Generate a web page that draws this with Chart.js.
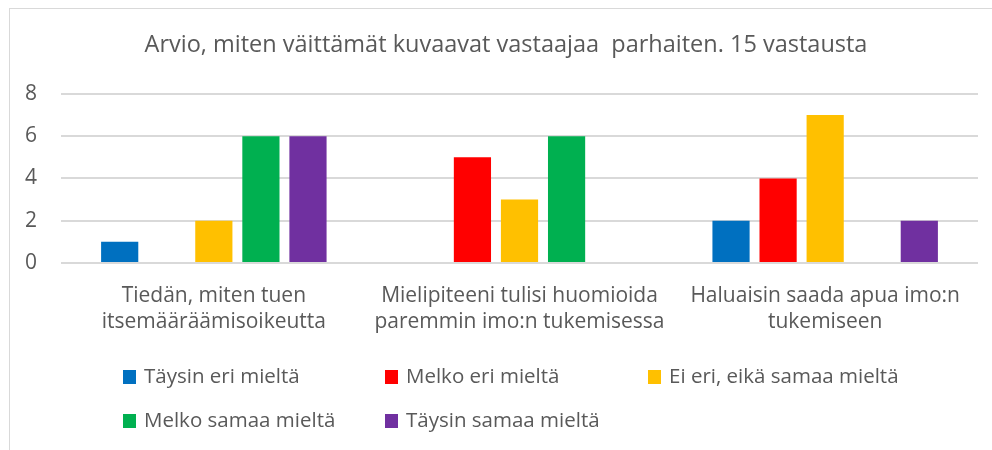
<!DOCTYPE html>
<html>
<head>
<meta charset="utf-8">
<script src="https://cdn.jsdelivr.net/npm/chart.js@4"></script>
<style>
  body { margin: 0; background: #fff; }
  #wrap { position: relative; width: 992px; height: 450px; }
  #frame { position: absolute; left: 9px; top: 8px; width: 990px; height: 450px; border: 1px solid #d9d9d9; box-sizing: border-box; }
  canvas { position: absolute; left: 0; top: 0; }
</style>
</head>
<body>
<div id="wrap">
  <div id="frame"></div>
  <canvas id="chart" width="992" height="450"></canvas>
</div>
<script>
const titleText = 'Arvio, miten väittämät kuvaavat vastaajaa  parhaiten. 15 vastausta';
const categories = [
  ['Tiedän, miten tuen', 'itsemääräämisoikeutta'],
  ['Mielipiteeni tulisi huomioida', 'paremmin imo:n tukemisessa'],
  ['Haluaisin saada apua imo:n', 'tukemiseen']
];
const seriesNames = ['Täysin eri mieltä', 'Melko eri mieltä', 'Ei eri, eikä samaa mieltä', 'Melko samaa mieltä', 'Täysin samaa mieltä'];
const taysinEri = [1, 0, 2];
const melkoEri = [0, 5, 4];
const eiEri = [2, 3, 7];
const melkoSamaa = [6, 6, 0];
const taysinSamaa = [6, 0, 2];
const yTicks = [0, 2, 4, 6, 8];
const colors = ['#0070C0', '#FF0000', '#FFC000', '#00B050', '#7030A0'];

const fontFam = "'Open Sans', sans-serif";
const textColor = '#595959';

const values = [taysinEri, melkoEri, eiEri, melkoSamaa, taysinSamaa];
const datasets = values.map((v, i) => ({
  label: seriesNames[i],
  data: v,
  backgroundColor: colors[i],
  borderWidth: 0,
  barPercentage: 0.79,
  categoryPercentage: 0.77
}));

// title sits a bit right of the canvas centre in the original, so draw it by hand
const titleAndLegend = {
  id: 'titleAndLegend',
  afterDraw(chart) {
    const ctx = chart.ctx;
    ctx.save();
    ctx.textBaseline = 'middle';
    ctx.textAlign = 'center';
    ctx.fillStyle = textColor;
    ctx.font = '23.5px ' + fontFam;
    ctx.fillText(titleText, 506, 45);

    // legend on a fixed column grid like Excel
    const colX = [123, 385, 648];
    const rowY = [377, 421];
    ctx.textAlign = 'left';
    ctx.font = '20.5px ' + fontFam;
    chart.data.datasets.forEach((ds, i) => {
      const x = colX[i % 3];
      const y = rowY[Math.floor(i / 3)];
      ctx.fillStyle = ds.backgroundColor;
      ctx.fillRect(x, y - 7, 13, 14);
      ctx.fillStyle = textColor;
      ctx.fillText(ds.label, x + 21, y);
    });
    ctx.restore();
  }
};

new Chart(document.getElementById('chart'), {
  type: 'bar',
  data: { labels: categories, datasets: datasets },
  options: {
    responsive: false,
    animation: false,
    layout: { padding: { left: 1, right: 14, top: 94, bottom: 103 } },
    plugins: {
      legend: { display: false },
      tooltip: { enabled: false },
      title: { display: false }
    },
    scales: {
      x: {
        grid: { display: false },
        border: { display: false },
        ticks: {
          color: textColor,
          font: { family: fontFam, size: 21, lineHeight: 1.24 },
          maxRotation: 0,
          padding: 12
        }
      },
      y: {
        min: 0,
        max: 8,
        afterBuildTicks(axis) { axis.ticks = yTicks.map(v => ({ value: v })); },
        grid: { color: '#d9d9d9', lineWidth: 2, drawTicks: false },
        border: { display: false },
        ticks: {
          color: textColor,
          font: { family: fontFam, size: 21 },
          padding: 24
        }
      }
    }
  },
  plugins: [titleAndLegend]
});
</script>
</body>
</html>
